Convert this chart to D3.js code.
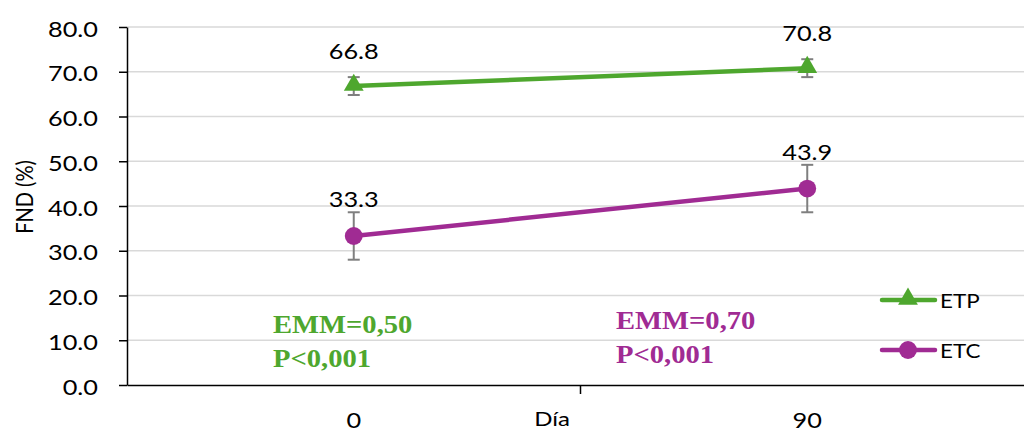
<!DOCTYPE html>
<html><head><meta charset="utf-8">
<script src="https://cdn.jsdelivr.net/npm/d3@7"></script>
<style>body{margin:0;background:#fff}svg{display:block}</style>
</head><body><svg id="c" width="1024" height="432"></svg>
<script>
const categories = ["0", "90"];
const etpValues = [66.8, 70.8];
const etpErrors = [2.0, 2.0];
const etcValues = [33.3, 43.9];
const etcErrors = [5.3, 5.3];
const yTicks = [0, 10, 20, 30, 40, 50, 60, 70, 80];
const seriesNames = ["ETP", "ETC"];
const annotations = [
  {lines: ["EMM=0,50", "P<0,001"], series: "ETP"},
  {lines: ["EMM=0,70", "P<0,001"], series: "ETC"}
];

(function () {
const colors = {ETP: "#4ea72e", ETC: "#a02b93"};
const font = "Lato, 'Liberation Sans', sans-serif";
const SX = 1.15;
const svg = d3.select("#c");
const pLeft = 127, pRight = 1034, pTop = 27, pBottom = 385;

const x = d3.scaleBand().domain(categories).range([pLeft, pRight]);
const y = d3.scaleLinear().domain([0, 80]).range([pBottom, pTop]);

function stext(parent, tx, ty, str, size, anchor, sx) {
  return parent.append("text")
    .attr("transform", `translate(${tx},${ty}) scale(${sx || SX},1)`)
    .attr("text-anchor", anchor || "middle")
    .attr("font-family", font).attr("font-size", size).attr("fill", "#000").text(str);
}

// gridlines
svg.append("g").selectAll("line").data(yTicks.filter(d => d > 0)).join("line")
  .attr("x1", pLeft).attr("x2", 1024).attr("y1", d => y(d)).attr("y2", d => y(d))
  .attr("stroke", "#d9d9d9").attr("stroke-width", 1.3);

// y axis
const yAxis = svg.append("g").attr("transform", `translate(${pLeft},0)`)
  .call(d3.axisLeft(y).tickValues(yTicks).tickFormat(d3.format(".1f")).tickSize(8).tickSizeOuter(0));
yAxis.select(".domain").attr("stroke", "#000").attr("stroke-width", 1.5);
yAxis.selectAll(".tick line").attr("stroke", "#000").attr("stroke-width", 1.5);
yAxis.selectAll(".tick text").attr("font-family", font).attr("font-size", 22).attr("fill", "#000")
  .attr("x", 0).attr("dy", 0).attr("text-anchor", "end")
  .attr("transform", `translate(-29,9) scale(${SX},1)`);

// x axis
const xAxis = svg.append("g").attr("transform", `translate(0,${pBottom})`)
  .call(d3.axisBottom(x).tickSize(0).tickSizeOuter(0));
xAxis.select(".domain").attr("stroke", "#000").attr("stroke-width", 1.5);
xAxis.selectAll(".tick text").attr("font-family", font).attr("font-size", 22).attr("fill", "#000")
  .attr("y", 0).attr("dy", 0).attr("transform", `translate(0,43) scale(${SX},1)`);
svg.append("g").selectAll("line").data(categories.slice(1)).join("line")
  .attr("x1", d => x(d)).attr("x2", d => x(d)).attr("y1", pBottom).attr("y2", pBottom + 9)
  .attr("stroke", "#000").attr("stroke-width", 1.5);

// axis titles
stext(svg, 552, 426, "Día", 20, "middle", 1.2);
svg.append("text").attr("transform", `translate(33,197) scale(1.2,1) rotate(-90)`)
  .attr("text-anchor", "middle").attr("font-family", font).attr("font-size", 20).text("FND (%)");

const series = [
  {name: "ETP", values: etpValues, errors: etpErrors, shape: d3.symbolTriangle, size: 170, lab: 27},
  {name: "ETC", values: etcValues, errors: etcErrors, shape: d3.symbolCircle, size: 250, lab: 29}
];
const cx = c => x(c) + x.bandwidth() / 2;

series.forEach(s => {
  const pts = categories.map((c, i) => ({c, v: s.values[i], e: s.errors[i]}));
  const g = svg.append("g");
  g.append("path").datum(pts)
    .attr("d", d3.line().x(d => cx(d.c)).y(d => y(d.v)))
    .attr("fill", "none").attr("stroke", colors[s.name]).attr("stroke-width", 4.5);
  const eb = g.selectAll(".eb").data(pts).join("g").attr("stroke", "#7f7f7f").attr("stroke-width", 2);
  eb.append("line").attr("x1", d => cx(d.c)).attr("x2", d => cx(d.c))
    .attr("y1", d => y(d.v + d.e)).attr("y2", d => y(d.v - d.e));
  eb.append("line").attr("x1", d => cx(d.c) - 6).attr("x2", d => cx(d.c) + 6)
    .attr("y1", d => y(d.v + d.e)).attr("y2", d => y(d.v + d.e));
  eb.append("line").attr("x1", d => cx(d.c) - 6).attr("x2", d => cx(d.c) + 6)
    .attr("y1", d => y(d.v - d.e)).attr("y2", d => y(d.v - d.e));
  g.selectAll(".m").data(pts).join("path")
    .attr("transform", d => `translate(${cx(d.c)},${y(d.v) + (s.name === "ETP" ? -1 : 0)})`)
    .attr("d", d3.symbol().type(s.shape).size(s.size))
    .attr("fill", colors[s.name]);
  pts.forEach(d => stext(g, cx(d.c), y(d.v) - s.lab, d3.format(".1f")(d.v), 22, "middle"));
});

const annPos = [{x: 273, y: 333}, {x: 616, y: 329}];
annotations.forEach((a, i) => {
  a.lines.forEach((ln, j) => {
    svg.append("text")
      .attr("transform", `translate(${annPos[i].x},${annPos[i].y + j * 34}) scale(1.1,1)`)
      .attr("font-family", "'Liberation Serif', 'Times New Roman', serif")
      .attr("font-weight", "bold").attr("font-size", 26).attr("fill", colors[a.series]).text(ln);
  });
});

const lg = svg.append("g");
seriesNames.forEach((n, i) => {
  const s = series.find(d => d.name === n);
  const ly = 300 + i * 50;
  lg.append("line").attr("x1", 882).attr("x2", 935).attr("y1", ly).attr("y2", ly)
    .attr("stroke", colors[n]).attr("stroke-width", 4.5).attr("stroke-linecap", "round");
  lg.append("path").attr("transform", `translate(908,${ly + (n === "ETP" ? -1 : 0)})`)
    .attr("d", d3.symbol().type(s.shape).size(s.size))
    .attr("fill", colors[n]);
  stext(lg, 940, ly + 8, n, 20, "start", 1.12);
});
})();
</script></body></html>
